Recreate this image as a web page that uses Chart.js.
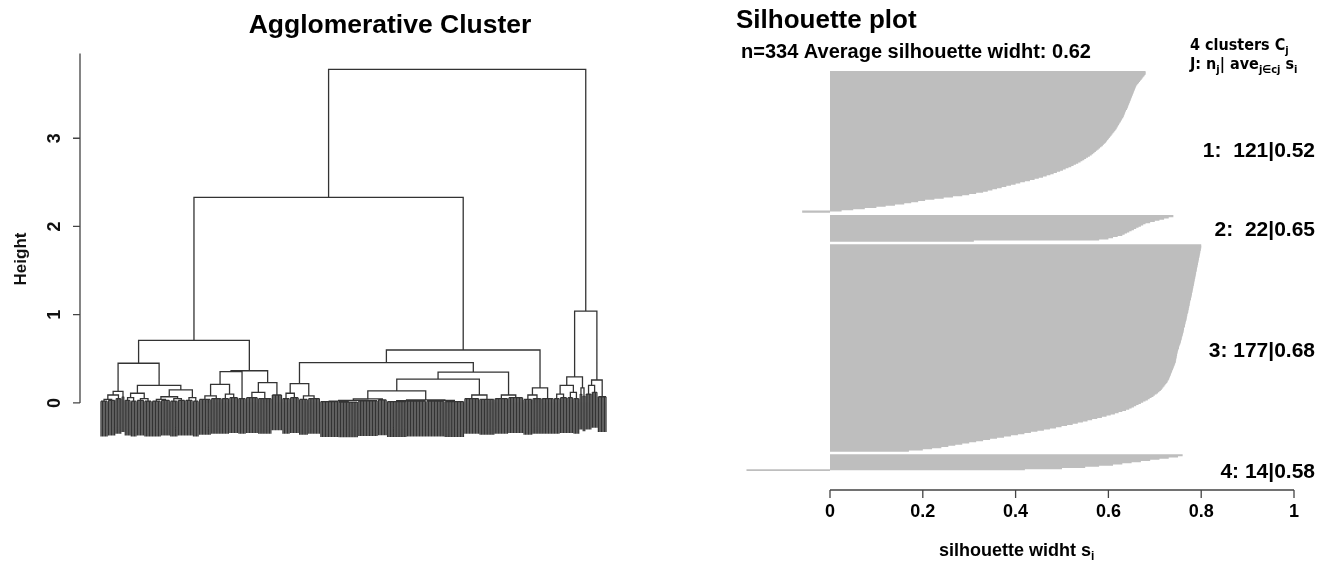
<!DOCTYPE html>
<html><head><meta charset="utf-8">
<script src="https://cdn.jsdelivr.net/npm/chart.js@4.4.1/dist/chart.umd.min.js"></script>
<style>
html,body{margin:0;padding:0;background:#fff;width:1330px;height:567px;overflow:hidden}
canvas{position:absolute;left:0;top:0}
</style></head><body>
<canvas id="dend" width="660" height="567"></canvas>
<canvas id="sil" width="1330" height="567"></canvas>
<script>
// ---------------- Dendrogram data ----------------
// node = [height, left, right]; leaf group = [height, numberOfLeaves]
const leafHang = 0.4;
const heightTicks = [0, 1, 2, 3];
const heightTickLabels = ['0', '1', '2', '3'];
const heightAxisTop = 3.96;

const subA1a = [0.13, [0.09, [0.04, [0.02, 5], [0.03, 5]], [0.05, 4]], [0.07, 2]];
const subA1b = [0.20,
  [0.11, [0.06, [0.03, 4], [0.02, 4]], [0.05, [0.03, 5], [0.02, 5]]],
  [0.147, [0.07, [0.04, [0.02, 6], [0.03, 6]], [0.05, [0.02, 5], [0.03, 5]]], [0.06, [0.03, 5], [0.02, 4]]]];
const subM = [0.355, [0.21, [0.08, [0.04, 8], [0.05, 7]], [0.10, [0.05, 5], [0.06, 6]]], [0.05, 5]];
const subNR = [0.23, [0.12, [0.06, 8], [0.05, 9]], [0.09, 7]];
const subB1a = [0.22, [0.11, [0.05, 5], [0.06, 6]], [0.08, [0.04, 6], [0.05, 8]]];
const subB1bLL = [0.136,
  [0.045, [0.03, [0.02, [0.015, 12], [0.01, 13]], [0.025, 13]], [0.035, 6]],
  [0.035, [0.025, [0.015, 13], [0.02, 13]], [0.03, [0.02, 12], [0.015, 13]]]];
const subB1bLR = [0.09, [0.05, 10], [0.04, 10]];
const subB1bR = [0.09, [0.05, 9], [0.06, 10]];
const subB2 = [0.17, [0.09, [0.04, 6], [0.05, 6]], [0.05, 8]];
const subR1 = [0.295, [0.2, [0.1, [0.05, 4], [0.06, 5]], [0.12, [0.06, 4], [0.05, 4]]], [0.17, [0.1, 2], [0.08, 2]]];
const subR2 = [0.26, [0.2, [0.1, 4], [0.12, 4]], [0.07, 6]];

const dendroTree = [3.78,
  [2.33,
    [0.71, [0.45, subA1a, subA1b], [0.365, subM, subNR]],
    [0.60, [0.456, subB1a, [0.35, [0.27, subB1bLL, subB1bLR], subB1bR]], subB2]],
  [1.04, subR1, subR2]];

// ---------------- Silhouette data ----------------
const clusterLabels = ['1:  121|0.52', '2:  22|0.65', '3: 177|0.68', '4: 14|0.58'];
const silTicks = [0, 0.2, 0.4, 0.6, 0.8, 1];
const silTickLabels = ['0', '0.2', '0.4', '0.6', '0.8', '1'];
const silCluster1 = [.68,.68,.68,.678,.676,.674,.672,.67,.668,.666,
.664,.662,.66,.659,.658,.657,.656,.655,.654,.653,
.652,.651,.65,.649,.648,.647,.646,.645,.644,.643,
.642,.641,.64,.638,.637,.636,.635,.634,.633,.632,
.63,.629,.627,.626,.624,.623,.621,.62,.618,.617,
.615,.613,.611,.609,.607,.605,.603,.601,.599,.597,
.595,.593,.59,.588,.585,.582,.579,.576,.573,.57,
.567,.564,.56,.556,.552,.548,.544,.54,.535,.53,
.525,.52,.514,.508,.502,.496,.489,.482,.475,.467,
.459,.45,.441,.431,.42,.41,.40,.39,.38,.37,
.36,.35,.34,.33,.315,.30,.285,.265,.245,.225,
.205,.19,.175,.16,.14,.12,.10,.075,.05,.025,
-.06];
const silCluster2 = [.74,.73,.72,.71,.70,.69,.68,.675,.67,.665,.66,.655,.65,.645,.64,.635,.63,.62,.61,.60,.58,.31];
const silCluster3 = [.80,.80,.80,.799,.799,.798,.798,.797,.797,.796,
.796,.795,.795,.794,.794,.793,.793,.792,.792,.791,
.791,.79,.79,.789,.789,.788,.788,.787,.787,.786,
.786,.785,.785,.784,.784,.783,.783,.782,.782,.781,
.781,.78,.78,.779,.779,.778,.778,.777,.776,.776,
.775,.775,.774,.774,.773,.773,.772,.772,.771,.77,
.77,.769,.769,.768,.768,.767,.766,.766,.765,.765,
.764,.763,.763,.762,.762,.761,.76,.76,.759,.758,
.758,.757,.756,.756,.755,.754,.753,.752,.752,.751,
.75,.749,.749,.748,.748,.747,.747,.746,.746,.745,
.745,.744,.743,.742,.741,.740,.739,.738,.737,.736,
.735,.734,.733,.732,.731,.73,.728,.727,.725,.723,
.721,.719,.717,.715,.713,.71,.707,.704,.70,.697,
.693,.689,.685,.68,.675,.67,.665,.66,.655,.65,
.645,.638,.63,.622,.614,.605,.596,.586,.576,.565,
.555,.545,.534,.523,.511,.499,.487,.474,.461,.447,
.433,.419,.405,.39,.375,.36,.345,.33,.315,.30,
.285,.27,.255,.24,.22,.20,.17];
const silCluster4 = [.76,.75,.73,.71,.69,.67,.65,.63,.61,.58,.55,.50,.42,-.18];
const silClusters = [silCluster1, silCluster2, silCluster3, silCluster4];
const clusterGap = 3;

// ---------------- helpers ----------------
const FONT = '"Liberation Sans", Arial, Helvetica, sans-serif';
const NARROW = '"Liberation Sans Narrow", "Arial Narrow", "DejaVu Sans Condensed", sans-serif';

function buildDendrogram(tree) {
  const pts = []; let next = 1;
  const brk = () => pts.push({x: null, y: null});
  function walk(node) {
    const h = node[0];
    if (node.length === 2) {
      const n = node[1], s = next; next += n; const e = s + n - 1;
      if (n > 1) { pts.push({x: s, y: h}, {x: e, y: h}); brk(); }
      for (let i = s; i <= e; i++) { pts.push({x: i, y: h}, {x: i, y: h - leafHang}); brk(); }
      return {x: (s + e) / 2, h};
    }
    const a = walk(node[1]), b = walk(node[2]);
    pts.push({x: a.x, y: a.h}, {x: a.x, y: h}, {x: b.x, y: h}, {x: b.x, y: b.h}); brk();
    return {x: (a.x + b.x) / 2, h};
  }
  walk(tree);
  return {pts, n: next - 1};
}

function drawRich(ctx, parts, x, y, align, baseFont, subFont, subDy) {
  let w = 0;
  parts.forEach(p => { ctx.font = p[1] ? subFont : baseFont; w += ctx.measureText(p[0]).width; });
  let cx = align === 'center' ? x - w / 2 : (align === 'right' ? x - w : x);
  ctx.textAlign = 'left'; ctx.textBaseline = 'alphabetic';
  parts.forEach(p => {
    ctx.font = p[1] ? subFont : baseFont;
    ctx.fillText(p[0], cx, y + (p[1] ? subDy : 0));
    cx += ctx.measureText(p[0]).width;
  });
}

// ---------------- Dendrogram chart ----------------
const dend = buildDendrogram(dendroTree);

const dendDecor = {
  id: 'dendDecor',
  afterDraw(chart) {
    const ctx = chart.ctx, ys = chart.scales.y, ca = chart.chartArea;
    const axX = ca.left - 19.5;
    ctx.save();
    ctx.strokeStyle = '#444'; ctx.lineWidth = 1.3;
    ctx.beginPath();
    ctx.moveTo(axX, ys.getPixelForValue(0)); ctx.lineTo(axX, ys.getPixelForValue(heightAxisTop));
    heightTicks.forEach(v => { const p = ys.getPixelForValue(v); ctx.moveTo(axX, p); ctx.lineTo(axX - 7, p); });
    ctx.stroke();
    ctx.fillStyle = '#111';
    ctx.font = 'bold 18px ' + FONT;
    ctx.textAlign = 'center'; ctx.textBaseline = 'middle';
    heightTicks.forEach((v, i) => {
      ctx.save(); ctx.translate(axX - 25, ys.getPixelForValue(v)); ctx.rotate(-Math.PI / 2);
      ctx.fillText(heightTickLabels[i], 0, 0); ctx.restore();
    });
    ctx.font = 'bold 17px ' + FONT;
    ctx.save(); ctx.translate(21, 259); ctx.rotate(-Math.PI / 2); ctx.fillText('Height', 0, 0); ctx.restore();
    ctx.font = 'bold 26.5px ' + FONT; ctx.textBaseline = 'alphabetic'; ctx.fillStyle = '#000';
    ctx.fillText('Agglomerative Cluster', 390, 33);
    ctx.restore();
  }
};

new Chart(document.getElementById('dend'), {
  type: 'scatter',
  data: { datasets: [{
    data: dend.pts, showLine: true, spanGaps: false,
    borderColor: '#333333', borderWidth: 1.3, pointRadius: 0, pointHoverRadius: 0
  }]},
  options: {
    responsive: false, animation: false, devicePixelRatio: 1, events: [],
    layout: { padding: { left: 99.5, right: 52.5, top: 50, bottom: 127 } },
    scales: {
      x: { type: 'linear', display: false, min: 0, max: dend.n + 1 },
      y: { type: 'linear', display: false, min: -0.42, max: 4.0 }
    },
    plugins: { legend: { display: false }, tooltip: { enabled: false } }
  },
  plugins: [dendDecor]
});

// ---------------- Silhouette chart ----------------
const silValues = [], silLabels = [];
silClusters.forEach((c, k) => {
  if (k > 0) for (let g = 0; g < clusterGap; g++) silValues.push(null);
  c.forEach(v => silValues.push(v));
});
silValues.forEach((v, i) => silLabels.push(String(i + 1)));

const silDecor = {
  id: 'silDecor',
  afterDraw(chart) {
    const ctx = chart.ctx, xs = chart.scales.x, ca = chart.chartArea;
    ctx.save();
    const axY = 490;
    ctx.strokeStyle = '#444'; ctx.lineWidth = 1.3;
    ctx.beginPath();
    ctx.moveTo(xs.getPixelForValue(silTicks[0]), axY);
    ctx.lineTo(xs.getPixelForValue(silTicks[silTicks.length - 1]), axY);
    silTicks.forEach(v => { const p = xs.getPixelForValue(v); ctx.moveTo(p, axY); ctx.lineTo(p, axY + 8); });
    ctx.stroke();
    ctx.fillStyle = '#000';
    ctx.font = 'bold 18px ' + FONT; ctx.textAlign = 'center'; ctx.textBaseline = 'alphabetic';
    silTicks.forEach((v, i) => ctx.fillText(silTickLabels[i], xs.getPixelForValue(v), 517));
    drawRich(ctx, [['silhouette widht s', 0], ['i', 1]], (ca.left + ca.right) / 2 + 1, 556, 'center',
      'bold 18px ' + FONT, 'bold 12px ' + FONT, 4);
    ctx.textAlign = 'left';
    ctx.font = 'bold 26px ' + FONT; ctx.fillText('Silhouette plot', 736, 28);
    ctx.font = 'bold 20px ' + FONT; ctx.fillText('n=334 Average silhouette widht: 0.62', 741, 58);
    drawRich(ctx, [['4 clusters C', 0], ['j', 1]], 1190, 50, 'left', 'bold 16px ' + NARROW, 'bold 11px ' + NARROW, 4);
    drawRich(ctx, [['J: n', 0], ['j', 1], ['| ave', 0], ['j\u2208cj', 1], [' s', 0], ['i', 1]], 1190, 69, 'left',
      'bold 16px ' + NARROW, 'bold 11px ' + NARROW, 4);
    const labelBase = [157, 236, 357, 478];
    ctx.font = 'bold 21px ' + FONT; ctx.textAlign = 'right';
    clusterLabels.forEach((t, i) => ctx.fillText(t, 1315, labelBase[i]));
    ctx.restore();
  }
};

new Chart(document.getElementById('sil'), {
  type: 'bar',
  data: { labels: silLabels, datasets: [{
    data: silValues, backgroundColor: '#bebebe', borderWidth: 0,
    barPercentage: 1.9, categoryPercentage: 1.0
  }]},
  options: {
    indexAxis: 'y', responsive: false, animation: false, devicePixelRatio: 1, events: [],
    layout: { padding: { left: 737.2, right: 36, top: 71, bottom: 96 } },
    scales: {
      x: { type: 'linear', display: false, min: -0.2, max: 1 },
      y: { type: 'category', display: false }
    },
    plugins: { legend: { display: false }, tooltip: { enabled: false } }
  },
  plugins: [silDecor]
});
</script></body></html>
